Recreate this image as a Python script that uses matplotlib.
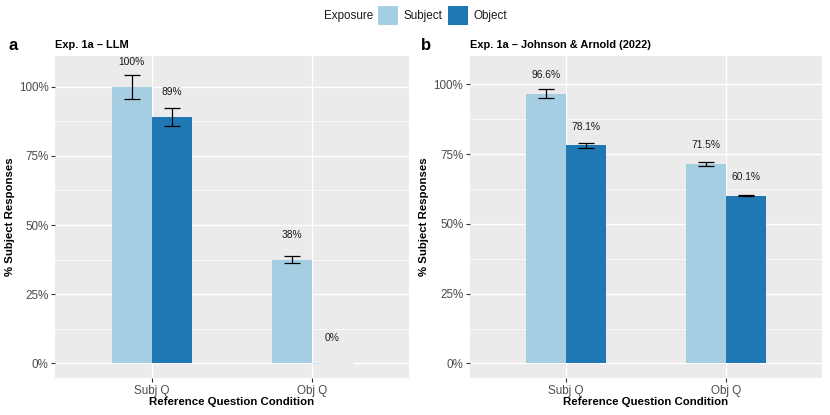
import matplotlib
matplotlib.use('Agg')
import matplotlib.pyplot as plt
from matplotlib.patches import Rectangle
import numpy as np

plt.rcParams['font.family'] = ['Liberation Sans', 'DejaVu Sans']

# data
conditions = ['Subj Q', 'Obj Q']

llm_subject = [1.00, 0.375]
llm_object = [0.89, 0.0]
llm_subject_err = [0.043, 0.012]
llm_object_err = [0.032, 0.0]
llm_subject_lab = ['100%', '38%']
llm_object_lab = ['89%', '0%']

ja_subject = [0.966, 0.715]
ja_object = [0.781, 0.601]
ja_subject_err = [0.017, 0.007]
ja_object_err = [0.010, 0.003]
ja_subject_lab = ['96.6%', '71.5%']
ja_object_lab = ['78.1%', '60.1%']

light = '#A6CEE3'
dark = '#1F78B4'
bg = '#EBEBEB'
W, H = 830, 415


def px_axes(fig, x0, y0, x1, y1):
    return fig.add_axes([x0 / W, 1 - y1 / H, (x1 - x0) / W, (y1 - y0) / H])


def draw_panel(ax, subj, obj, subj_err, obj_err, subj_lab, obj_lab, lab_off, ylim):
    x = np.arange(1, len(conditions) + 1)
    w = 0.25
    ax.set_facecolor(bg)
    ax.bar(x - w / 2, subj, width=w, color=light, zorder=3)
    ax.bar(x + w / 2, obj, width=w, color=dark, zorder=3)
    for xi, v, e in zip(x - w / 2, subj, subj_err):
        if e > 0:
            ax.errorbar(xi, v, yerr=e, color='black', capsize=5.8, elinewidth=0.9,
                        capthick=0.9, zorder=4)
    for xi, v, e in zip(x + w / 2, obj, obj_err):
        if e > 0:
            ax.errorbar(xi, v, yerr=e, color='black', capsize=5.8, elinewidth=0.9,
                        capthick=0.9, zorder=4)
        elif v == 0:
            ax.plot([xi - w / 2, xi + w / 2], [0, 0], color='#DCE6EE', lw=0.8, zorder=3)
    for xi, v, t in zip(x - w / 2, subj, subj_lab):
        ax.text(xi, v + lab_off, t, ha='center', va='center', fontsize=7.4, color='#1A1A1A', zorder=5)
    for xi, v, t in zip(x + w / 2, obj, obj_lab):
        ax.text(xi, v + lab_off, t, ha='center', va='center', fontsize=7.4, color='#1A1A1A', zorder=5)

    ax.set_xlim(0.4, 2.6)
    ax.set_ylim(*ylim)
    ax.set_xticks(x)
    ax.set_xticklabels(conditions)
    yt = [0, 0.25, 0.5, 0.75, 1.0]
    ax.set_yticks(yt)
    ax.set_yticklabels(['0%', '25%', '50%', '75%', '100%'])
    ax.set_yticks([0.125, 0.375, 0.625, 0.875], minor=True)
    ax.grid(True, which='major', color='white', lw=1.0, zorder=0)
    ax.grid(True, which='minor', axis='y', color='white', lw=0.5, zorder=0)
    ax.tick_params(which='major', length=2.8, width=0.8, color='#333333',
                   labelsize=8.4, labelcolor='#4D4D4D', pad=2)
    ax.tick_params(which='minor', length=0)
    for s in ax.spines.values():
        s.set_visible(False)
    ax.set_axisbelow(True)
    ax.set_ylabel('% Subject Responses', fontsize=8.2, fontweight='bold', labelpad=3)
    ax.set_xlabel('Reference Question Condition', fontsize=8.2, fontweight='bold', labelpad=0.5)


fig = plt.figure(figsize=(8.3, 4.15), dpi=100)

ax1 = px_axes(fig, 55.3, 56, 408.7, 378)
draw_panel(ax1, llm_subject, llm_object, llm_subject_err, llm_object_err,
           llm_subject_lab, llm_object_lab, 0.09, (-0.054, 1.112))
ax1.set_title('Exp. 1a – LLM', loc='left', fontsize=7.9, fontweight='bold', pad=6)

ax2 = px_axes(fig, 470, 56, 822, 378)
draw_panel(ax2, ja_subject, ja_object, ja_subject_err, ja_object_err,
           ja_subject_lab, ja_object_lab, 0.067, (-0.052, 1.101))
ax2.set_title('Exp. 1a – Johnson & Arnold (2022)', loc='left', fontsize=7.9, fontweight='bold', pad=6)

fig.text(8 / W, 1 - 46 / H, 'a', fontsize=12, fontweight='bold', va='center')
fig.text(421 / W, 1 - 46 / H, 'b', fontsize=12, fontweight='bold', va='center')

# legend on top
fig.text(373 / W, 1 - 16 / H, 'Exposure', fontsize=8.4, ha='right', va='center', color='#1A1A1A')
fig.patches.append(Rectangle((378 / W, 1 - 25 / H), 20 / W, 19 / H, transform=fig.transFigure,
                             facecolor=light, edgecolor='none'))
fig.text(403 / W, 1 - 16 / H, 'Subject', fontsize=8.4, ha='left', va='center', color='#1A1A1A')
fig.patches.append(Rectangle((448 / W, 1 - 25 / H), 20 / W, 19 / H, transform=fig.transFigure,
                             facecolor=dark, edgecolor='none'))
fig.text(473 / W, 1 - 16 / H, 'Object', fontsize=8.4, ha='left', va='center', color='#1A1A1A')

fig.savefig('out.png', dpi=100)
